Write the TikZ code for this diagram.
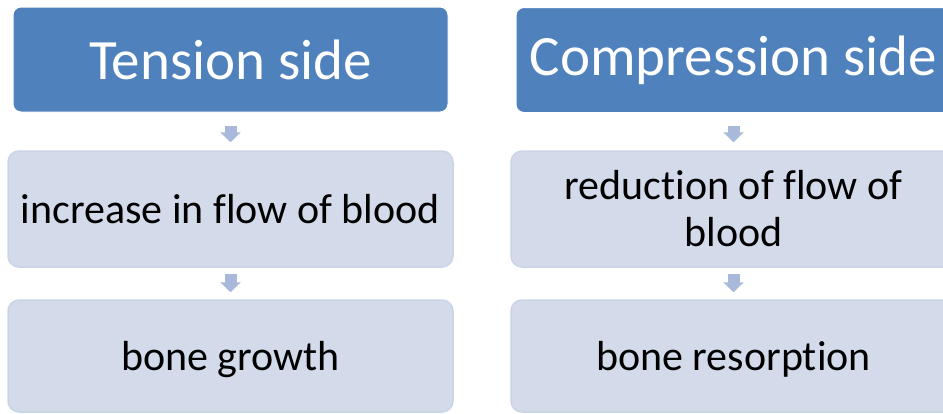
\documentclass[tikz,border=0pt]{standalone}
\usepackage{fontspec}
\setmainfont[Ligatures=NoCommon]{Carlito}
\usetikzlibrary{arrows.meta}
\definecolor{headblue}{HTML}{4F81BD}
\definecolor{boxfill}{HTML}{D3DAEA}
\definecolor{boxline}{HTML}{CBD4E7}
\definecolor{arrowcol}{HTML}{A9B9DB}
\tikzset{
  headbox/.style={draw=white, line width=1pt, fill=headblue, rounded corners=8pt,
    minimum width=435pt, minimum height=105pt, inner sep=0pt, text=white,
    font=\fontsize{57}{62}\selectfont},
  subbox/.style={draw=boxline, line width=1.5pt, fill=boxfill, rounded corners=11pt,
    minimum width=445pt, inner sep=0pt, text=black, align=center,
    font=\fontsize{42}{47}\selectfont},
  blockarrow/.style={draw=arrowcol, line width=12pt,
    -{Triangle[length=10pt,width=20pt]}},
  firstgap/.style={shorten <=13pt, shorten >=8pt},
  secondgap/.style={shorten <=6pt, shorten >=7pt}
}
\begin{document}
\begin{tikzpicture}[x=1pt,y=-1pt]
\useasboundingbox (0,0) rectangle (943,413);
\clip (0,0) rectangle (943,413);
\node[headbox] (t1) at (230.5,59.5) {Tension side};
\node[headbox] (t2) at (733.5,60) {Compression side};
\node[subbox, minimum height=116pt] (m1) at (230.5,209) {increase in flow of blood};
\node[subbox, minimum height=116pt] (m2) at (733.5,209) {reduction of flow of\\blood};
\node[subbox, minimum height=112pt, text depth=0pt] (b1) at (230.5,356) {bone growth};
\node[subbox, minimum height=112pt, text depth=0pt] (b2) at (733.5,356) {bone resorption};
\draw[blockarrow, firstgap] (t1.south) -- (m1.north);
\draw[blockarrow, firstgap] (t2.south) -- (m2.north);
\draw[blockarrow, secondgap] (m1.south) -- (b1.north);
\draw[blockarrow, secondgap] (m2.south) -- (b2.north);
\end{tikzpicture}
\end{document}
